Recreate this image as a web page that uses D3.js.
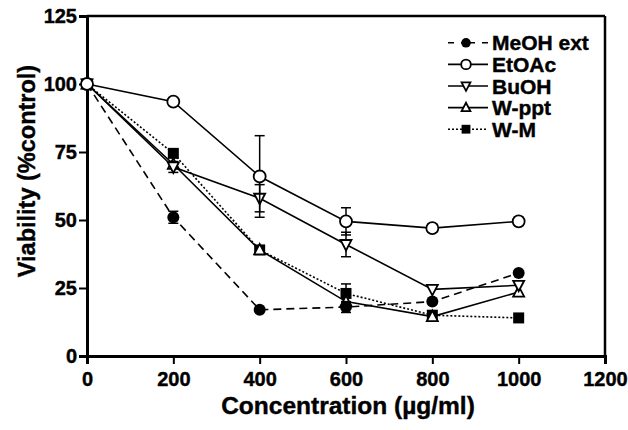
<!DOCTYPE html>
<html><head><meta charset="utf-8">
<script src="https://cdn.jsdelivr.net/npm/d3@7/dist/d3.min.js"></script>
<style>body{margin:0;background:#fff}svg{display:block}</style>
</head><body>
<script>
const concentrations = [0, 200, 400, 600, 800, 1000];
const seriesNames = ["MeOH ext", "EtOAc", "BuOH", "W-ppt", "W-M"];
const meohValues = [100, 51, 17, 18, 20, 30.5];
const meohErrors = [0, 2.2, 0, 2, 0, 0];
const etoacValues = [100, 93.5, 66, 49.5, 47, 49.5];
const etoacErrors = [0, 0, 15, 5, 1.5, 1.5];
const buohValues = [100, 69.5, 58, 41, 24.5, 26];
const buohErrors = [0, 2, 5, 4.5, 0, 0];
const wpptValues = [100, 70.5, 39, 20, 14.5, 23.5];
const wpptErrors = [0, 0, 0, 0, 0, 0];
const wmValues = [100, 74.5, 39, 23, 15, 14];
const wmErrors = [0, 0, 0, 3.5, 0, 0];
const xTicks = [0, 200, 400, 600, 800, 1000, 1200];
const yTicks = [0, 25, 50, 75, 100, 125];

const series = [
  {name: seriesNames[0], values: meohValues, errors: meohErrors, marker: "circleFilled", dash: "8,5"},
  {name: seriesNames[1], values: etoacValues, errors: etoacErrors, marker: "circleOpen", dash: null},
  {name: seriesNames[2], values: buohValues, errors: buohErrors, marker: "triDown", dash: null},
  {name: seriesNames[3], values: wpptValues, errors: wpptErrors, marker: "triUp", dash: null},
  {name: seriesNames[4], values: wmValues, errors: wmErrors, marker: "square", dash: "2,2"}
];

const W = 628, H = 430;
const m = {left: 87, right: 605, top: 16, bottom: 356};
const svg = d3.select("body").append("svg").attr("width", W).attr("height", H);
const font = "'Liberation Sans', Arial, Helvetica, sans-serif";

const x = d3.scaleLinear().domain([0, 1200]).range([m.left, m.right]);
const y = d3.scaleLinear().domain([0, 125]).range([m.bottom, m.top]);

// frame top and right
svg.append("line").attr("x1", m.left).attr("x2", m.right).attr("y1", m.top).attr("y2", m.top)
  .attr("stroke", "#000").attr("stroke-width", 2.5);
svg.append("line").attr("x1", m.right).attr("x2", m.right).attr("y1", m.top).attr("y2", m.bottom)
  .attr("stroke", "#000").attr("stroke-width", 2.5);

const xAxis = svg.append("g").attr("transform", `translate(0,${m.bottom})`)
  .call(d3.axisBottom(x).tickValues(xTicks).tickSize(8).tickPadding(8).tickFormat(d3.format("d")));
const yAxis = svg.append("g").attr("transform", `translate(${m.left},0)`)
  .call(d3.axisLeft(y).tickValues(yTicks).tickSize(8).tickPadding(2).tickFormat(d3.format("d")));
[xAxis, yAxis].forEach(g => {
  g.select(".domain").attr("stroke", "#000").attr("stroke-width", 3);
  g.selectAll(".tick line").attr("stroke", "#000").attr("stroke-width", 2);
  g.selectAll("text").attr("font-family", font).attr("font-weight", "bold")
    .attr("font-size", 20).attr("fill", "#000").attr("stroke", "#000").attr("stroke-width", 0.4);
});

function drawMarker(g, type, cx, cy, k) {
  k = k || 1;
  if (type === "circleFilled") {
    g.append("circle").attr("cx", cx).attr("cy", cy).attr("r", 6 * k).attr("fill", "#000");
  } else if (type === "circleOpen") {
    g.append("circle").attr("cx", cx).attr("cy", cy).attr("r", 6 * k).attr("fill", "#fff")
      .attr("stroke", "#000").attr("stroke-width", 1.8);
  } else if (type === "triDown") {
    g.append("path").attr("d", `M${cx-5.5*k},${cy-4.5*k} L${cx+5.5*k},${cy-4.5*k} L${cx},${cy+6*k} Z`)
      .attr("fill", "#fff").attr("stroke", "#000").attr("stroke-width", 1.8);
  } else if (type === "triUp") {
    g.append("path").attr("d", `M${cx-5.5*k},${cy+4.5*k} L${cx+5.5*k},${cy+4.5*k} L${cx},${cy-6*k} Z`)
      .attr("fill", "#fff").attr("stroke", "#000").attr("stroke-width", 1.8);
  } else if (type === "square") {
    g.append("rect").attr("x", cx-5.5*k).attr("y", cy-5.5*k).attr("width", 11*k).attr("height", 11*k).attr("fill", "#000");
  }
}

const line = d3.line().x((d, i) => x(concentrations[i])).y(d => y(d));
const order = [4, 3, 2, 0, 1];
order.forEach(si => {
  const s = series[si];
  const g = svg.append("g");
  // error bars
  s.values.forEach((v, i) => {
    const e = s.errors[i];
    if (!e) return;
    const cx = x(concentrations[i]);
    g.append("line").attr("x1", cx).attr("x2", cx).attr("y1", y(v + e)).attr("y2", y(v - e))
      .attr("stroke", "#000").attr("stroke-width", 1.5);
    [v + e, v - e].forEach(t => g.append("line").attr("x1", cx - 5).attr("x2", cx + 5)
      .attr("y1", y(t)).attr("y2", y(t)).attr("stroke", "#000").attr("stroke-width", 1.5));
  });
  g.append("path").attr("d", line(s.values)).attr("fill", "none").attr("stroke", "#000")
    .attr("stroke-width", 1.6).attr("stroke-dasharray", s.dash);
  s.values.forEach((v, i) => drawMarker(g, s.marker, x(concentrations[i]), y(v)));
});

// legend
const legendY = d3.scaleBand().domain(seriesNames).range([32, 140]);
series.forEach(s => {
  const cy = legendY(s.name) + legendY.bandwidth() / 2;
  const g = svg.append("g");
  g.append("line").attr("x1", 448).attr("x2", 488).attr("y1", cy).attr("y2", cy)
    .attr("stroke", "#000").attr("stroke-width", 1.6).attr("stroke-dasharray", s.name === "MeOH ext" ? "6,7,14,7" : s.dash);
  drawMarker(g, s.marker, 466, cy, 0.8);
  g.append("text").attr("x", 492).attr("y", cy + 7.5).text(s.name)
    .attr("font-family", font).attr("font-weight", "bold").attr("font-size", 21).attr("fill", "#000")
    .attr("stroke", "#000").attr("stroke-width", 0.4);
});

// axis titles
svg.append("text").attr("x", 348).attr("y", 414).attr("text-anchor", "middle")
  .attr("font-family", font).attr("font-weight", "bold").attr("font-size", 24.5)
  .attr("stroke", "#000").attr("stroke-width", 0.4).text("Concentration (µg/ml)");
svg.append("text").attr("transform", "translate(35,171) rotate(-90)").attr("text-anchor", "middle")
  .attr("font-family", font).attr("font-weight", "bold").attr("font-size", 23.5)
  .attr("stroke", "#000").attr("stroke-width", 0.4).text("Viability (%control)");
</script>
</body></html>
